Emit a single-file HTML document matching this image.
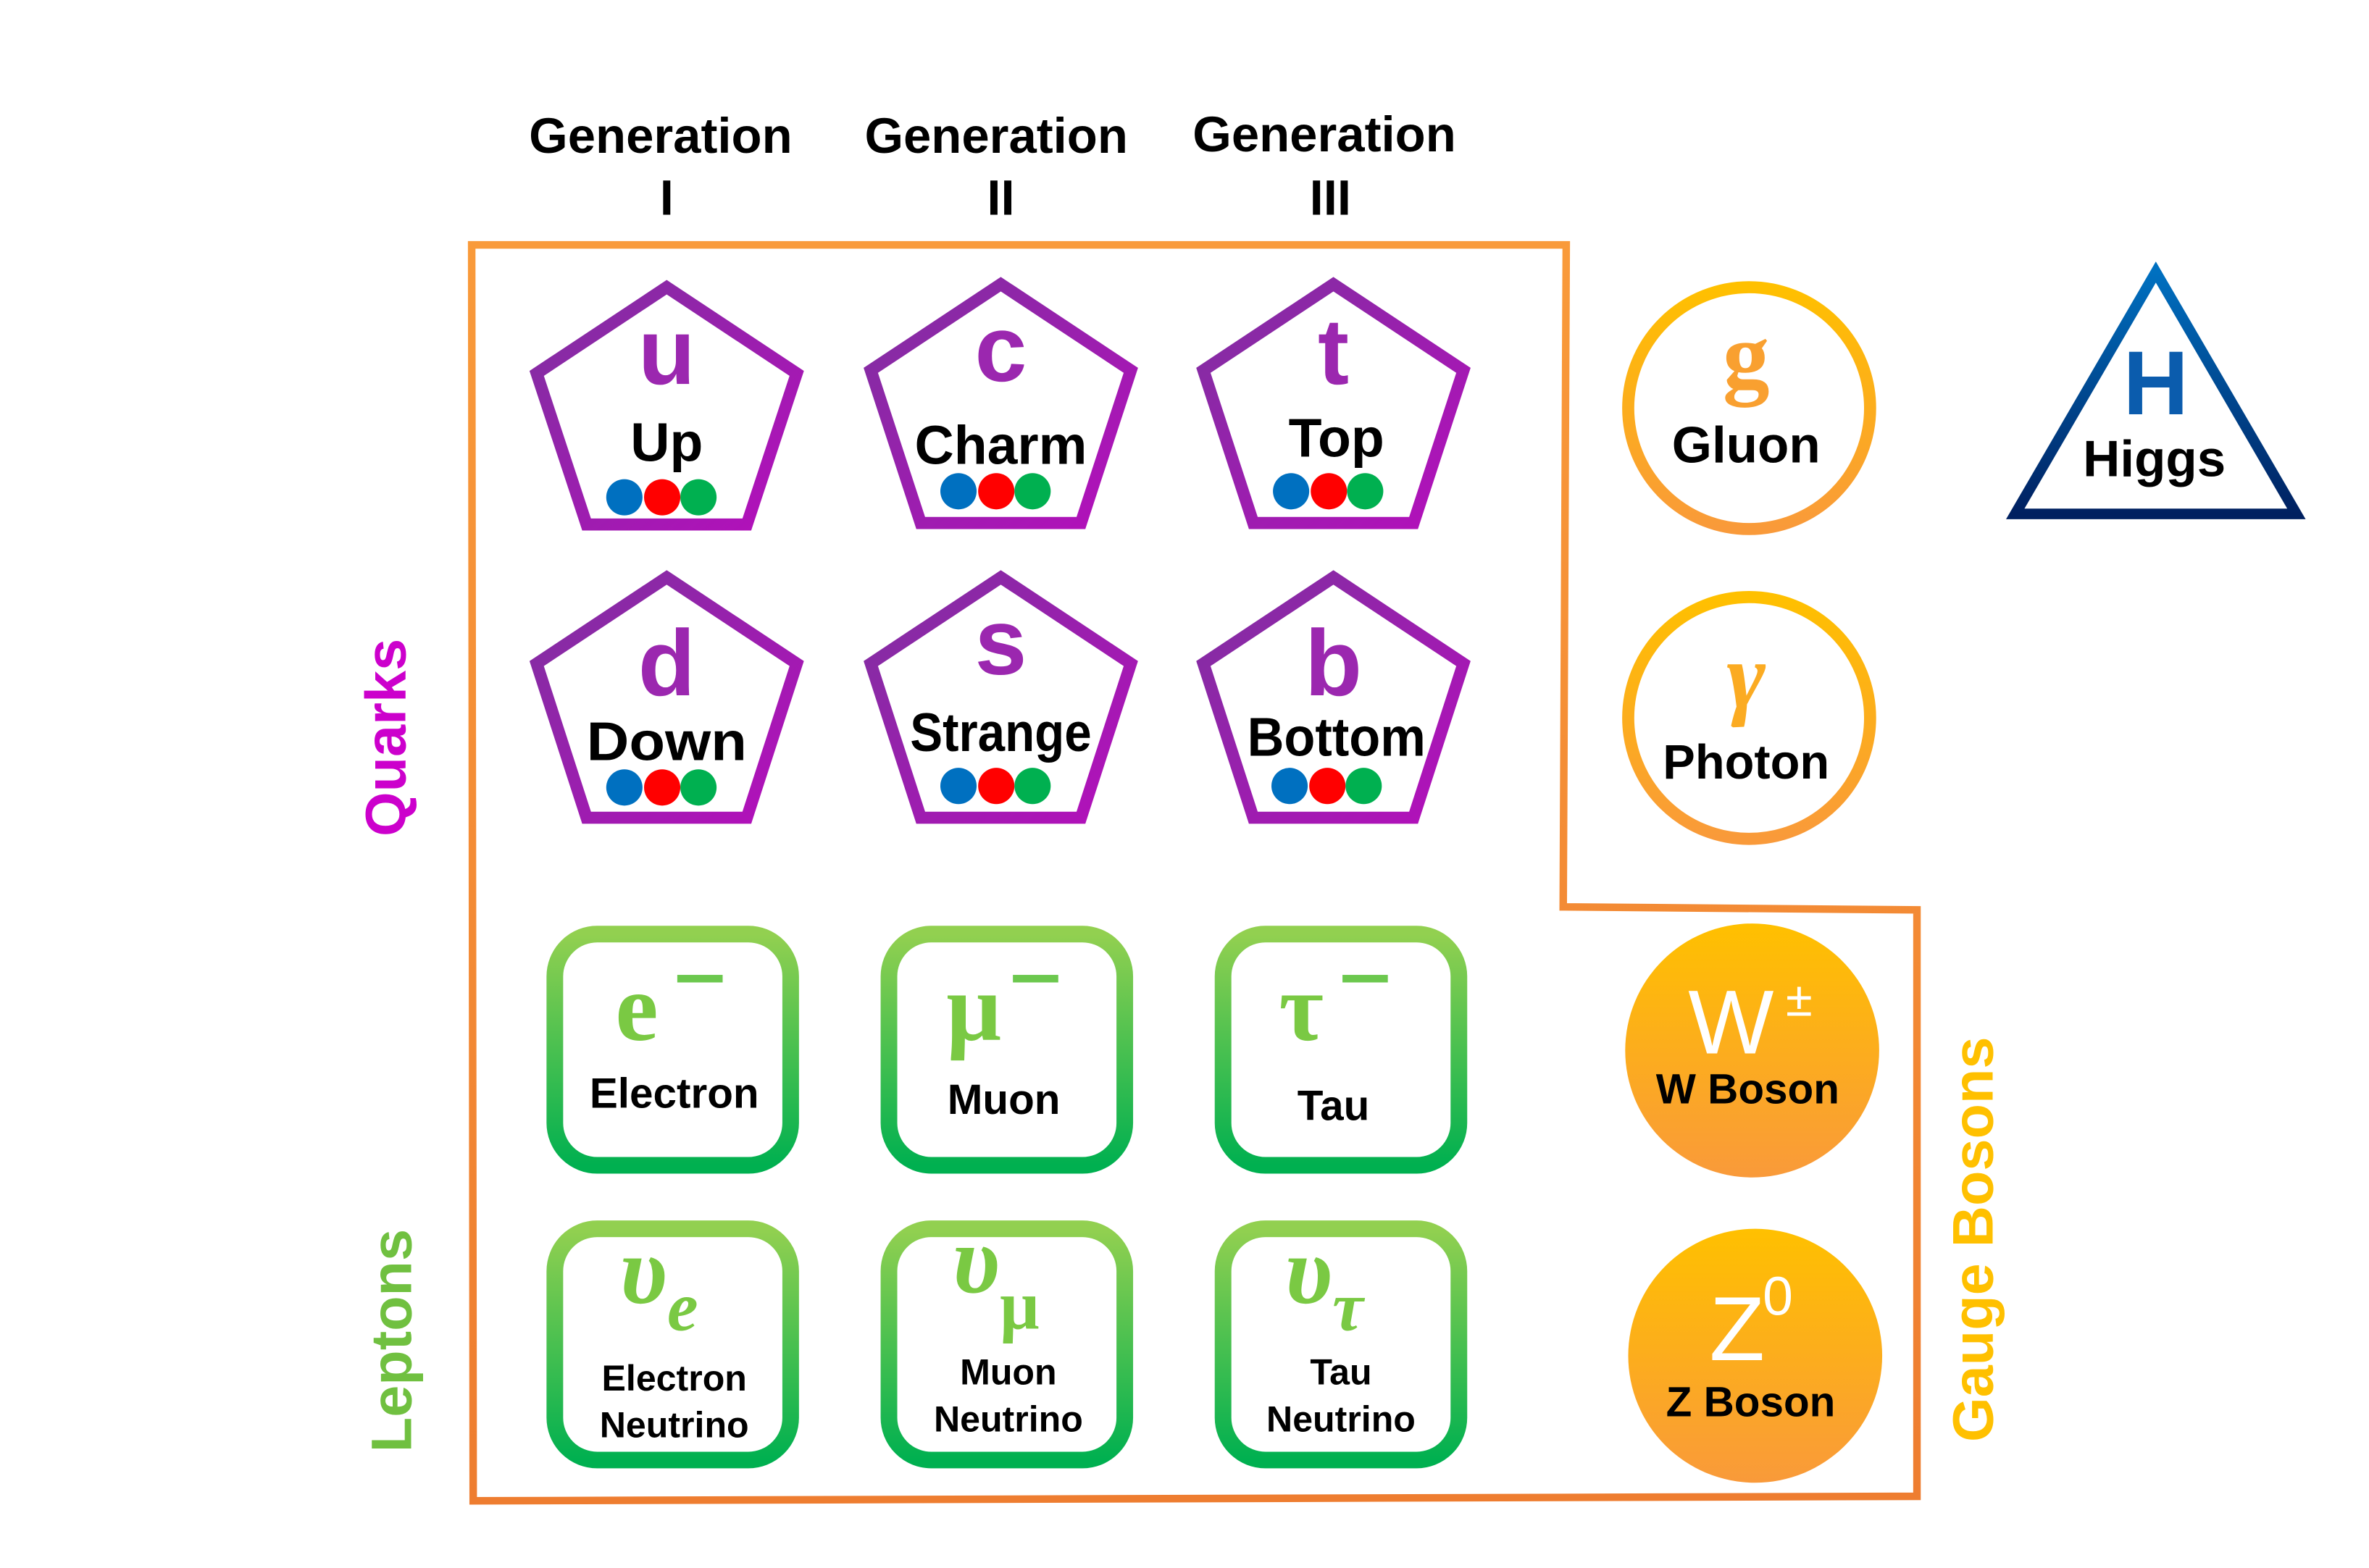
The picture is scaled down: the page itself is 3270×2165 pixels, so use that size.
<!DOCTYPE html>
<html><head><meta charset="utf-8"><style>
html,body{margin:0;padding:0;background:#fff;}
svg{display:block;}
text{font-family:"Liberation Sans",sans-serif;font-weight:bold;}
text.serif, tspan.serif{font-family:"Liberation Serif",serif;}
text.serifi{font-family:"Liberation Serif",serif;font-style:italic;}
</style></head><body>
<svg width="3270" height="2165" viewBox="0 0 1567 1037.4" xmlns="http://www.w3.org/2000/svg">
<defs>
<linearGradient id="og" x1="0" y1="0" x2="0" y2="1"><stop offset="0" stop-color="#f99a3a"/><stop offset="1" stop-color="#ee7d30"/></linearGradient>
<linearGradient id="pg" x1="0" y1="0" x2="1" y2="1"><stop offset="0" stop-color="#7f30a0"/><stop offset="1" stop-color="#b40fbb"/></linearGradient>
<linearGradient id="gg" x1="0" y1="0" x2="0" y2="1"><stop offset="0" stop-color="#92d050"/><stop offset="1" stop-color="#00b050"/></linearGradient>
<linearGradient id="yg" x1="0" y1="0" x2="0" y2="1"><stop offset="0" stop-color="#ffc000"/><stop offset="1" stop-color="#f99a3a"/></linearGradient>
<linearGradient id="bg" x1="0" y1="0" x2="0" y2="1"><stop offset="0" stop-color="#0070c0"/><stop offset="1" stop-color="#002060"/></linearGradient>
<g id="dots"><circle cx="-28" cy="0" r="12" fill="#0070c0"/><circle cx="-3" cy="0" r="12" fill="#ff0000"/><circle cx="21" cy="0" r="12" fill="#00b050"/></g>
</defs>

<g font-size="33" fill="#000" text-anchor="middle">
<text x="437" y="101">Generation</text><text x="441" y="142">I</text>
<text x="659" y="101">Generation</text><text x="662" y="142">II</text>
<text x="876" y="100">Generation</text><text x="880" y="142">III</text>
</g>

<path d="M312,162 L1036,162 L1034,600 L1268,602 L1268,990 L313,993 Z" fill="none" stroke="url(#og)" stroke-width="5"/>

<g fill="none" stroke="url(#pg)" stroke-width="8" stroke-linejoin="miter">
<path d="M441,190 L527,247 L494,347 L388,347 L355,247 Z"/>
<path d="M662,188 L748,245 L715,346 L609,346 L576,245 Z"/>
<path d="M882,188 L968,245 L935,346 L829,346 L796,245 Z"/>
<path d="M441,382 L527,439 L494,541 L388,541 L355,439 Z"/>
<path d="M662,382 L748,439 L715,541 L609,541 L576,439 Z"/>
<path d="M882,382 L968,439 L935,541 L829,541 L796,439 Z"/>
</g>
<g fill="#9b27af" font-size="62" text-anchor="middle">
<text x="441" y="254">u</text><text x="662" y="252">c</text><text x="882" y="254">t</text>
<text x="441" y="460">d</text><text x="662" y="446">s</text><text x="882" y="460">b</text>
</g>
<g fill="#000" font-size="36" text-anchor="middle">
<text x="441" y="305">Up</text>
<text x="662" y="307" textLength="114" lengthAdjust="spacingAndGlyphs">Charm</text>
<text x="884" y="302">Top</text>
<text x="441" y="503" textLength="106" lengthAdjust="spacingAndGlyphs">Down</text>
<text x="662" y="497" textLength="120" lengthAdjust="spacingAndGlyphs">Strange</text>
<text x="884" y="500" textLength="118" lengthAdjust="spacingAndGlyphs">Bottom</text>
</g>
<use href="#dots" x="441" y="329"/><use href="#dots" x="662" y="325"/><use href="#dots" x="882" y="325"/>
<use href="#dots" x="441" y="521"/><use href="#dots" x="662" y="520"/><use href="#dots" x="881" y="520"/>

<g fill="none" stroke="url(#gg)" stroke-width="11">
<rect x="367" y="618" width="156" height="153" rx="28"/>
<rect x="588" y="618" width="156" height="153" rx="28"/>
<rect x="809" y="618" width="156" height="153" rx="28"/>
<rect x="367" y="813" width="156" height="153" rx="28"/>
<rect x="588" y="813" width="156" height="153" rx="28"/>
<rect x="809" y="813" width="156" height="153" rx="28"/>
</g>
<g fill="#7ac943" font-size="64">
<text class="serif" x="407" y="688">e</text><text class="serif" x="626" y="688">μ</text><text class="serif" x="846" y="688">τ</text>
<text class="serifi" x="410" y="862">υ<tspan font-size="46" dy="18">e</tspan></text>
<text class="serifi" x="630" y="855">υ<tspan font-size="46" dy="24" style="font-style:normal">μ</tspan></text>
<text class="serifi" x="850" y="862">υ<tspan font-size="46" dy="18">τ</tspan></text>
</g>
<g fill="#6cc84e"><rect x="448" y="645" width="30" height="5"/><rect x="670" y="645" width="30" height="5"/><rect x="888" y="645" width="30" height="5"/></g>
<g fill="#000" font-size="28" text-anchor="middle">
<text x="446" y="733">Electron</text><text x="664" y="737">Muon</text><text x="882" y="741">Tau</text>
</g>
<g fill="#000" font-size="24" text-anchor="middle">
<text x="446" y="920">Electron</text><text x="446" y="951">Neutrino</text>
<text x="667" y="916">Muon</text><text x="667" y="947">Neutrino</text>
<text x="887" y="916">Tau</text><text x="887" y="947">Neutrino</text>
</g>

<circle cx="1157" cy="270" r="80" fill="none" stroke="url(#yg)" stroke-width="8"/>
<circle cx="1157" cy="475" r="80" fill="none" stroke="url(#yg)" stroke-width="8"/>
<text class="serif" x="1155" y="256" fill="#f9a030" font-size="62" text-anchor="middle">g</text>
<text x="1155" y="306" font-size="34" text-anchor="middle">Gluon</text>
<text class="serifi" x="1155" y="468" fill="#fbab22" font-size="62" text-anchor="middle">γ</text>
<text x="1155" y="515" font-size="32" text-anchor="middle">Photon</text>
<ellipse cx="1159" cy="695" rx="84" ry="84" fill="url(#yg)"/>
<ellipse cx="1161" cy="897" rx="84" ry="84" fill="url(#yg)"/>
<text x="1145" y="697" fill="#fff" font-size="60" text-anchor="middle" style="font-weight:normal">W</text>
<text x="1190" y="672" fill="#fff" font-size="32" text-anchor="middle" style="font-weight:normal">±</text>
<text x="1156" y="730" font-size="28" text-anchor="middle">W Boson</text>
<text x="1149" y="900" fill="#fff" font-size="60" text-anchor="middle" style="font-weight:normal">Z</text>
<text x="1176" y="870" fill="#fff" font-size="36" text-anchor="middle" style="font-weight:normal">0</text>
<text x="1158" y="937" font-size="28" text-anchor="middle">Z Boson</text>

<path d="M1426,180 L1519,340 L1333,340 Z" fill="none" stroke="url(#bg)" stroke-width="7"/>
<text x="1426" y="274" fill="#0b5cad" font-size="60" text-anchor="middle">H</text>
<text x="1425" y="315" font-size="34" text-anchor="middle">Higgs</text>

<text transform="translate(268,488) rotate(-90)" fill="#cc00cc" font-size="38" text-anchor="middle">Quarks</text>
<text transform="translate(272,887) rotate(-90)" fill="#70c040" font-size="38" text-anchor="middle">Leptons</text>
<text transform="translate(1318,820) rotate(-90)" fill="#ffc000" font-size="38" text-anchor="middle">Gauge Bosons</text>
</svg>
</body></html>
